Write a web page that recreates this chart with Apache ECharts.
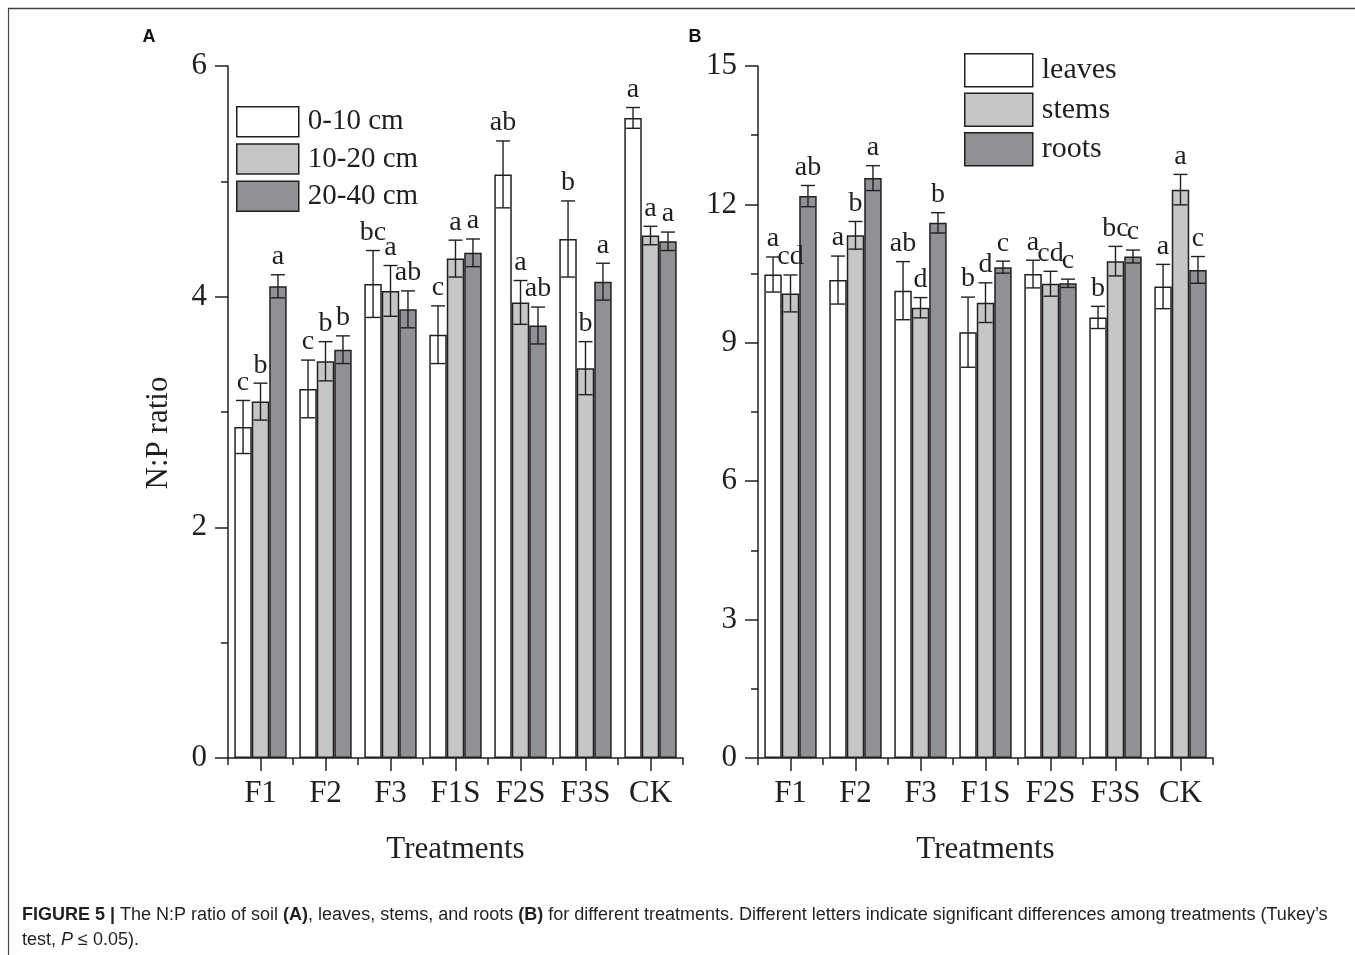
<!DOCTYPE html>
<html>
<head>
<meta charset="utf-8">
<style>
html,body{margin:0;padding:0;background:#fff;}
#chart{width:1355px;height:955px;}
</style>
<script src="https://cdn.jsdelivr.net/npm/echarts@6/dist/echarts.min.js"></script>
</head>
<body>
<div id="chart"></div>
<script>
// ---------- data ----------
var categories = ['F1', 'F2', 'F3', 'F1S', 'F2S', 'F3S', 'CK'];

var soilNames = ['0-10 cm', '10-20 cm', '20-40 cm'];
var soil0_10 = [2.87, 3.20, 4.11, 3.67, 5.06, 4.50, 5.55];
var soil0_10Err = [0.23, 0.25, 0.29, 0.25, 0.29, 0.33, 0.09];
var soil0_10Letters = ['c', 'c', 'bc', 'c', 'ab', 'b', 'a'];
var soil10_20 = [3.09, 3.44, 4.05, 4.33, 3.95, 3.38, 4.53];
var soil10_20Err = [0.16, 0.17, 0.22, 0.16, 0.19, 0.23, 0.08];
var soil10_20Letters = ['b', 'b', 'a', 'a', 'a', 'b', 'a'];
var soil20_40 = [4.09, 3.54, 3.89, 4.38, 3.75, 4.13, 4.48];
var soil20_40Err = [0.10, 0.12, 0.16, 0.12, 0.16, 0.16, 0.08];
var soil20_40Letters = ['a', 'b', 'ab', 'a', 'ab', 'a', 'a'];

var plantNames = ['leaves', 'stems', 'roots'];
var leaves = [10.48, 10.36, 10.13, 9.23, 10.49, 9.55, 10.22];
var leavesErr = [0.38, 0.52, 0.63, 0.76, 0.30, 0.24, 0.48];
var leavesLetters = ['a', 'a', 'ab', 'b', 'a', 'b', 'a'];
var stems = [10.07, 11.33, 9.76, 9.87, 10.28, 10.77, 12.32];
var stemsErr = [0.40, 0.30, 0.22, 0.43, 0.27, 0.32, 0.33];
var stemsLetters = ['cd', 'b', 'd', 'd', 'cd', 'bc', 'a'];
var roots = [12.18, 12.57, 11.60, 10.64, 10.29, 10.87, 10.58];
var rootsErr = [0.23, 0.27, 0.22, 0.13, 0.09, 0.14, 0.29];
var rootsLetters = ['ab', 'a', 'b', 'c', 'c', 'c', 'c'];

var yTicksA = {min: 0, max: 6, interval: 2};
var yTicksB = {min: 0, max: 15, interval: 3};

// ---------- styles ----------
var INK = '#231f20';
var FILLS = ['#ffffff', '#c5c6c8', '#909195'];
var SERIF = 'Liberation Serif';
var CAT_GAP = 0.194;

var chart = echarts.init(document.getElementById('chart'), null, {renderer: 'canvas'});

function yAxis(grid, t) {
  return {
    type: 'value', gridIndex: grid, min: t.min, max: t.max, interval: t.interval,
    axisLine: {show: true, lineStyle: {color: INK, width: 1.5}},
    axisTick: {show: true, length: 13, lineStyle: {color: INK, width: 1.5}},
    minorTick: {show: true, splitNumber: 2, length: 7, lineStyle: {color: INK, width: 1.5}},
    splitLine: {show: false},
    axisLabel: {color: INK, fontFamily: SERIF, fontSize: 31, margin: 21}
  };
}
function xAxes(grid) {
  return [{
    type: 'category', gridIndex: grid, data: categories,
    axisLine: {show: true, lineStyle: {color: INK, width: 1.5}},
    axisTick: {show: true, alignWithLabel: false, length: 7, lineStyle: {color: INK, width: 1.5}},
    axisLabel: {color: INK, fontFamily: SERIF, fontSize: 31, margin: 20},
    name: 'Treatments', nameLocation: 'middle', nameGap: 76,
    nameTextStyle: {color: INK, fontFamily: SERIF, fontSize: 31}
  }, {
    type: 'category', gridIndex: grid, data: categories, position: 'bottom',
    axisLine: {show: false},
    axisTick: {show: true, alignWithLabel: true, length: 13, lineStyle: {color: INK, width: 1.5}},
    axisLabel: {show: false}
  }];
}

function barSeries(name, data, idx, xi, yi) {
  return {
    type: 'bar', name: name, data: data, xAxisIndex: xi, yAxisIndex: yi,
    barGap: '0%', barCategoryGap: (CAT_GAP * 100) + '%',
    itemStyle: {color: FILLS[idx], borderColor: INK, borderWidth: 1.5},
    emphasis: {disabled: true}, z: 2
  };
}

function errSeries(values, errs, letters, idx, xi, yi) {
  var data = values.map(function (v, i) { return [i, v, errs[i]]; });
  return {
    type: 'custom', xAxisIndex: xi, yAxisIndex: yi, data: data, z: 5, silent: true,
    encode: {x: 0, y: 1},
    renderItem: function (params, api) {
      var cat = api.value(0), v = api.value(1), e = api.value(2);
      var base = api.coord([cat, v]);
      var band = api.size([1, 0])[0];
      var bw = band * (1 - CAT_GAP) / 3;
      var x = base[0] + (idx - 1) * bw;
      var top = api.coord([cat, v + e])[1];
      var bot = api.coord([cat, v - e])[1];
      var cap = bw * 0.8 / 2;
      var ls = {stroke: INK, lineWidth: 1.4};
      return {
        type: 'group',
        children: [
          {type: 'line', shape: {x1: x, y1: top, x2: x, y2: bot}, style: ls},
          {type: 'line', shape: {x1: x - cap, y1: top, x2: x + cap, y2: top}, style: ls},
          {type: 'line', shape: {x1: x - cap, y1: bot, x2: x + cap, y2: bot}, style: ls},
          {type: 'text', x: x, y: top - 4, style: {
            text: letters[params.dataIndex], fill: INK, font: '28px "' + SERIF + '"',
            align: 'center', verticalAlign: 'bottom'
          }}
        ]
      };
    }
  };
}

var legendBase = {
  orient: 'vertical', icon: 'rect', selectedMode: false, padding: 0,
  itemStyle: {borderColor: INK, borderWidth: 1.5},
  textStyle: {color: INK, fontFamily: SERIF, padding: [0, 0, 0, 4]}
};

var option = {
  backgroundColor: '#ffffff',
  animation: false,
  grid: [
    {left: 228, top: 66, width: 455, height: 692},
    {left: 758, top: 66, width: 455, height: 692}
  ],
  legend: [
    Object.assign({}, legendBase, {
      data: soilNames, left: 236, top: 106, itemWidth: 62, itemHeight: 30, itemGap: 5.7,
      textStyle: Object.assign({}, legendBase.textStyle, {fontSize: 29})
    }),
    Object.assign({}, legendBase, {
      data: plantNames, left: 964, top: 53, itemWidth: 68, itemHeight: 33, itemGap: 5,
      textStyle: Object.assign({}, legendBase.textStyle, {fontSize: 30})
    })
  ],
  xAxis: xAxes(0).concat(xAxes(1)),
  yAxis: [yAxis(0, yTicksA), yAxis(1, yTicksB)],
  series: [
    barSeries(soilNames[0], soil0_10, 0, 0, 0),
    barSeries(soilNames[1], soil10_20, 1, 0, 0),
    barSeries(soilNames[2], soil20_40, 2, 0, 0),
    barSeries(plantNames[0], leaves, 0, 2, 1),
    barSeries(plantNames[1], stems, 1, 2, 1),
    barSeries(plantNames[2], roots, 2, 2, 1),
    errSeries(soil0_10, soil0_10Err, soil0_10Letters, 0, 0, 0),
    errSeries(soil10_20, soil10_20Err, soil10_20Letters, 1, 0, 0),
    errSeries(soil20_40, soil20_40Err, soil20_40Letters, 2, 0, 0),
    errSeries(leaves, leavesErr, leavesLetters, 0, 2, 1),
    errSeries(stems, stemsErr, stemsLetters, 1, 2, 1),
    errSeries(roots, rootsErr, rootsLetters, 2, 2, 1)
  ],
  graphic: [
    {type: 'line', shape: {x1: 8.5, y1: 9, x2: 8.5, y2: 955}, style: {stroke: '#444', lineWidth: 1.2}, silent: true},
    {type: 'line', shape: {x1: 8, y1: 8.5, x2: 1355, y2: 8.5}, style: {stroke: '#444', lineWidth: 1.5}, silent: true},
    {type: 'text', x: 149, y: 37, style: {text: 'A', font: 'bold 18px "Liberation Sans"', fill: '#111', align: 'center', verticalAlign: 'middle'}},
    {type: 'text', x: 695, y: 37, style: {text: 'B', font: 'bold 18px "Liberation Sans"', fill: '#111', align: 'center', verticalAlign: 'middle'}},
    {type: 'text', x: 159, y: 433, rotation: Math.PI / 2, style: {
      text: 'N:P ratio', font: '31px "' + SERIF + '"', fill: INK, align: 'center', verticalAlign: 'middle'}},
    {type: 'text', x: 22, y: 915, style: {
      text: '{b|FIGURE 5 |} The N:P ratio of soil {b|(A)}, leaves, stems, and roots {b|(B)} for different treatments. Different letters indicate significant differences among treatments (Tukey\u2019s',
      font: '18px "Liberation Sans"', fill: '#231f20', verticalAlign: 'middle',
      rich: {b: {fontWeight: 'bold', fontFamily: 'Liberation Sans', fontSize: 18, fill: '#231f20'}}
    }},
    {type: 'text', x: 22, y: 940, style: {
      text: 'test, {i|P} \u2264 0.05).',
      font: '18px "Liberation Sans"', fill: '#231f20', verticalAlign: 'middle',
      rich: {i: {fontStyle: 'italic', fontFamily: 'Liberation Sans', fontSize: 18, fill: '#231f20'}}
    }}
  ]
};
chart.setOption(option);
</script>
</body>
</html>
